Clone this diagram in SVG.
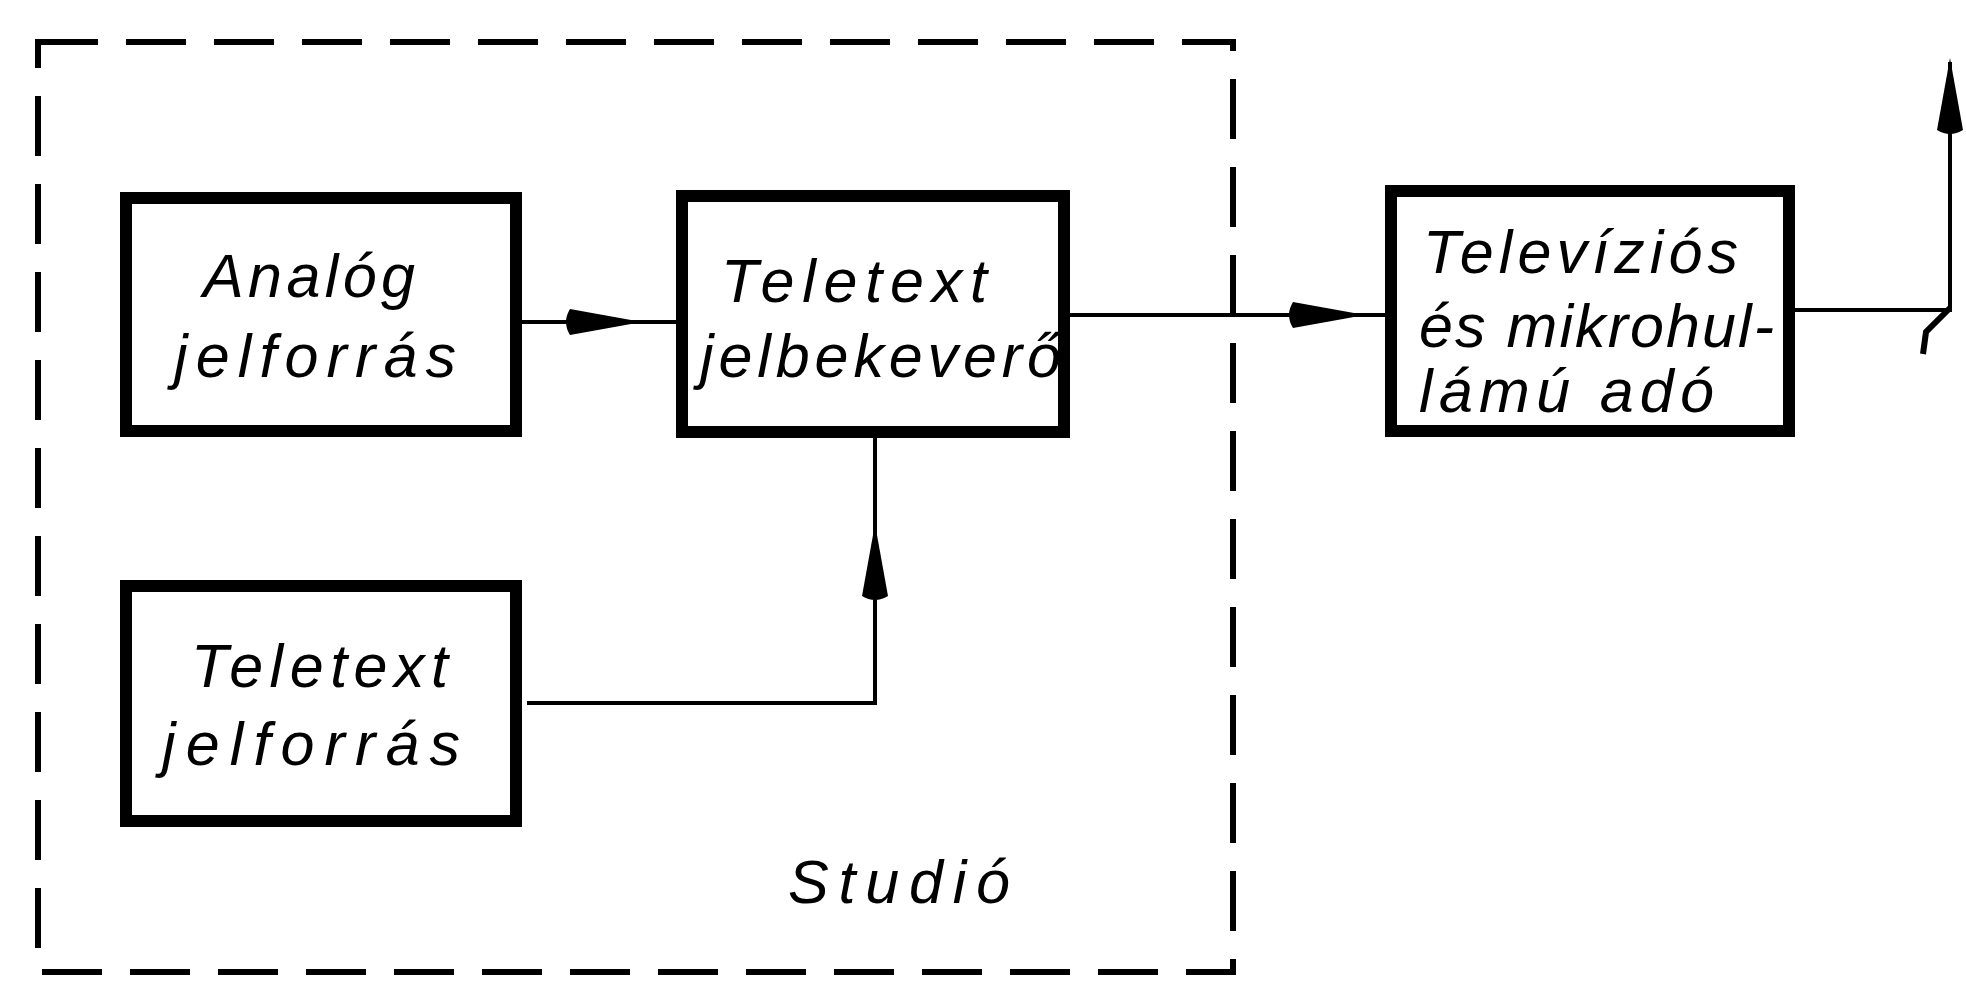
<svg xmlns="http://www.w3.org/2000/svg" width="1966" height="983" viewBox="0 0 1966 983">
<style>
.box{fill:#fff;stroke:#000;stroke-width:12}
.dash{fill:none;stroke:#000;stroke-width:6;stroke-dasharray:60 28}
.wire{fill:none;stroke:#000;stroke-width:4}
.lbl{font-family:"Liberation Sans",Arial,sans-serif;font-style:italic;font-size:61px;fill:#000}
</style>
<defs>
<path id="ah" d="M0,0 L-72,-13 Q-80,0 -72,13 Z" fill="#000"/>
</defs>
<rect width="1966" height="983" fill="#fff"/>
<g id="studio">
<rect class="dash" x="38" y="42" width="1195" height="930"/>
<text class="lbl" x="788" y="903" textLength="222" lengthAdjust="spacing">Studió</text>
</g>
<g id="connectors">
<polyline class="wire" points="522,322 676,322"/>
<use href="#ah" transform="translate(642,322)"/>
<polyline class="wire" points="1070,315 1385,315"/>
<use href="#ah" transform="translate(1365,315)"/>
<polyline class="wire" points="527,703 875,703 875,438"/>
<use href="#ah" transform="translate(875,524) rotate(-90)"/>
<polyline class="wire" points="1795,310 1950,310 1950,62"/>
<use href="#ah" transform="translate(1950,58) rotate(-90)"/>
<path d="M1950,308 L1926,332 L1923,354" fill="none" stroke="#000" stroke-width="6"/>
</g>
<g id="analog">
<rect class="box" x="126" y="198" width="390" height="233"/>
<text class="lbl" x="203" y="297" textLength="212" lengthAdjust="spacing">Analóg</text>
<text class="lbl" x="174" y="377" textLength="282" lengthAdjust="spacing">jelforrás</text>
</g>
<g id="mixer">
<rect class="box" x="682" y="196" width="382" height="236"/>
<text class="lbl" x="721" y="302" textLength="266" lengthAdjust="spacing">Teletext</text>
<text class="lbl" x="700" y="377" textLength="361" lengthAdjust="spacing">jelbekeverő</text>
</g>
<g id="teletext-source">
<rect class="box" x="126" y="586" width="390" height="235"/>
<text class="lbl" x="191" y="687" textLength="257" lengthAdjust="spacing">Teletext</text>
<text class="lbl" x="162" y="765" textLength="298" lengthAdjust="spacing">jelforrás</text>
</g>
<g id="transmitter">
<rect class="box" x="1391" y="191" width="398" height="240"/>
<text class="lbl" x="1423" y="273" textLength="315" lengthAdjust="spacing">Televíziós</text>
<text class="lbl" x="1419" y="347" textLength="355" lengthAdjust="spacing">és mikrohul-</text>
<text class="lbl" x="1419" y="412" textLength="295" lengthAdjust="spacing">lámú adó</text>
</g>
</svg>
